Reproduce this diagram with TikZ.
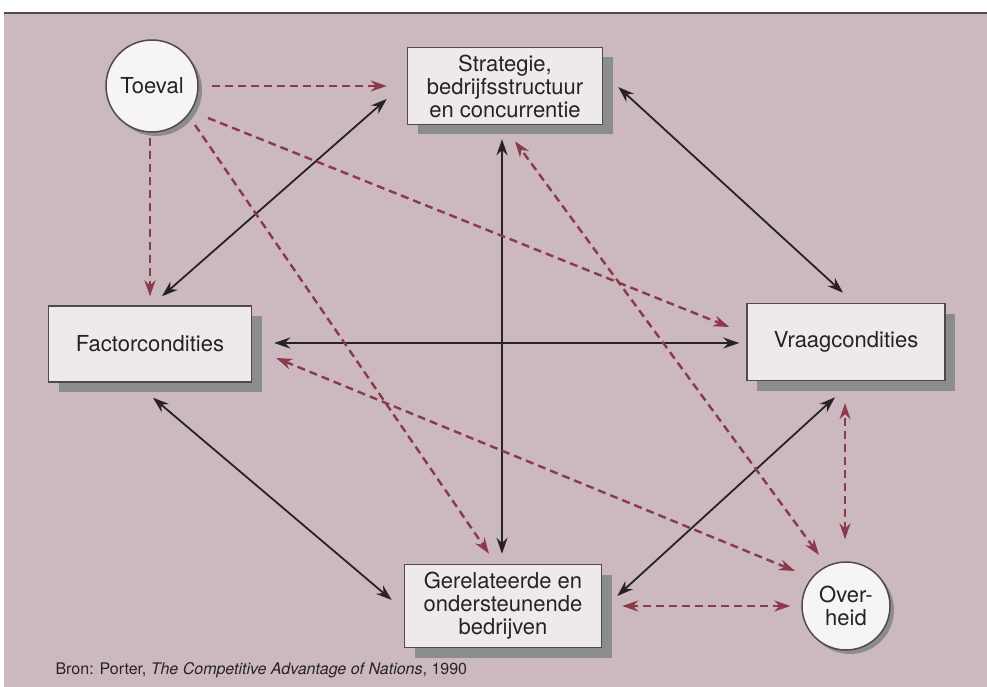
\documentclass[tikz,border=0pt]{standalone}
\usepackage{fontspec}
\setmainfont{TeX Gyre Heros}
\usetikzlibrary{arrows.meta,calc,shadows}
\definecolor{portInk}{HTML}{262324}
\definecolor{portRed}{HTML}{8C3A4A}
\definecolor{portPink}{HTML}{CCB9BF}
\definecolor{portFill}{HTML}{EEE9EA}
\definecolor{portShade}{HTML}{8B8D8C}
\definecolor{portEdge}{HTML}{4F4A4C}
\tikzset{
  every picture/.style={font=\fontsize{22}{23}\selectfont, text=portInk},
  cond box/.style={draw=portEdge, line width=1.5pt, fill=portFill, align=center,
    inner sep=0pt, drop shadow={shadow xshift=10pt, shadow yshift=-10pt,
    fill=portShade, opacity=1}},
  cond circle/.style={circle, draw=portEdge, line width=1.5pt,
    fill=portFill!50!white, align=center, inner sep=0pt,
    drop shadow={shadow xshift=4pt, shadow yshift=-4pt, fill=portShade, opacity=1}},
  main link/.style={{Stealth[length=16pt,width=11pt]}-{Stealth[length=16pt,width=11pt]},
    draw=portInk, line width=1.8pt},
  side link/.style={-{Stealth[length=16pt,width=11pt]},
    draw=portRed, line width=2.4pt, dash pattern=on 8pt off 5pt},
  side both/.style={side link, {Stealth[length=16pt,width=11pt]}-{Stealth[length=16pt,width=11pt]}}
}

\begin{document}
\begin{tikzpicture}[x=1pt,y=-1pt]
  \useasboundingbox (0,0) rectangle (987,687);
  \fill[white] (0,0) rectangle (987,687);
  \fill[portPink] (4,13) rectangle (987,687);
  \draw[portEdge, line width=2pt] (4,13) -- (987,13);

  % the four corners of the diamond
  \node[cond box, minimum width=195pt, minimum height=77pt] (str) at (505,86)
    {Strategie,\\bedrijfsstructuur\\en concurrentie};
  \node[cond box, minimum width=203pt, minimum height=76pt] (fac) at (150,344) {Factorcondities};
  \node[cond box, minimum width=198pt, minimum height=77pt] (vrg) at (846,342) {Vraagcondities};
  \node[cond box, minimum width=197pt, minimum height=83pt] (ger) at (503,606)
    {Gerelateerde en\\ondersteunende\\bedrijven};
  \node[cond circle, minimum size=92pt] (toe) at (152,86) {Toeval};
  \node[cond circle, minimum size=88pt] (ovh) at (846,606) {Over-\\heid};

  % solid links
  \draw[main link] ($(fac.north)+(12,-9)$) -- ($(str.west)+(-20,13)$);
  \draw[main link] ($(str.east)+(15,1)$) -- ($(vrg.north)+(-3,-10)$);
  \draw[main link] ($(fac.east)+(22,-1)$) -- ($(vrg.west)+(-7,1)$);
  \draw[main link] ($(str.south)+(-3,14)$) -- ($(ger.north)+(-1,-10)$);
  \draw[main link] ($(fac.south)+(3,15)$) -- ($(ger.west)+(-12,-6)$);
  \draw[main link] ($(vrg.south)+(-11,16)$) -- ($(ger.east)+(15,-10)$);

  % chance and government
  \draw[side link] ($(toe.east)+(13,0)$) -- ($(str.west)+(-20,0)$);
  \draw[side link] ($(toe.south)+(-2,5)$) -- ($(fac.north)+(0,-9)$);
  \draw[side link] ($(toe.center)+(56,32)$) -- ($(vrg.west)+(-17,-15)$);
  \draw[side link] ($(toe.center)+(43,39)$) -- ($(ger.north)+(-14,-10)$);
  \draw[side both] ($(ovh.center)+(-27,-51)$) -- ($(str.south)+(10,16)$);
  \draw[side both] ($(ovh.center)+(-51,-35)$) -- ($(fac.east)+(24,14)$);
  \draw[side both] ($(ovh.north)+(-1,-22)$) -- ($(vrg.south)+(-1,22)$);
  \draw[side both] ($(ovh.west)+(-11,0)$) -- ($(ger.east)+(20,0)$);

  \node[anchor=west, font=\fontsize{16}{18}\selectfont] (src) at (52,670)
    {Bron: Porter, \textit{The Competitive Advantage of Nations}, 1990};
\end{tikzpicture}
\end{document}
